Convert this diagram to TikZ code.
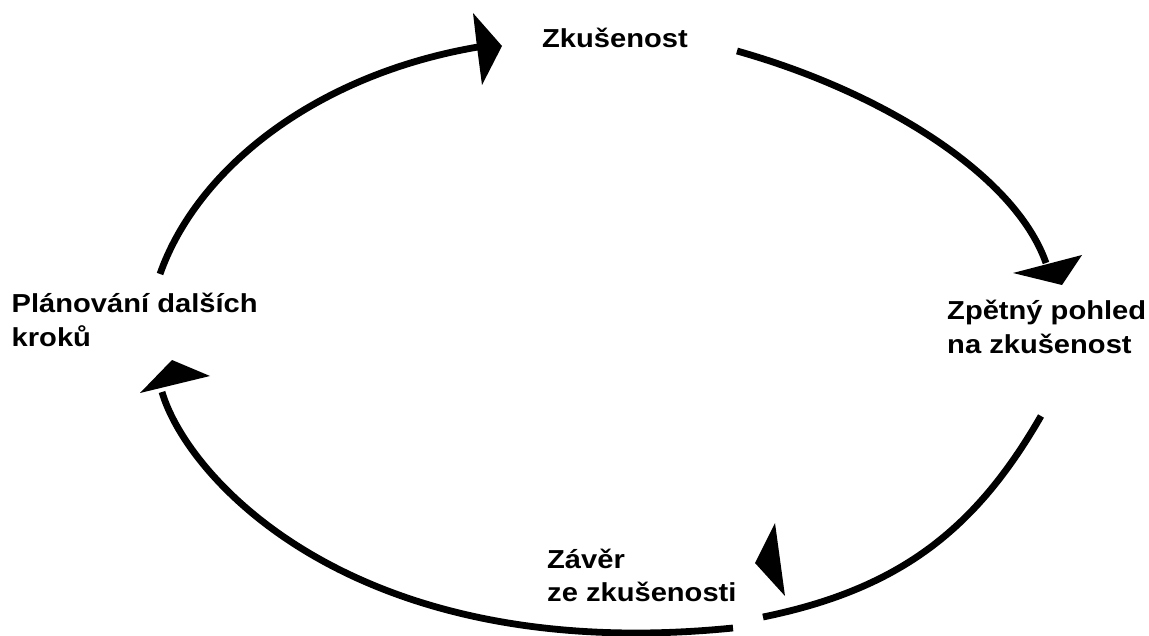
\documentclass[tikz,border=0pt]{standalone}
\usepackage{fontspec}
\newfontfamily\lab{Liberation Sans}[FakeStretch=1.12]
\begin{document}
\begin{tikzpicture}[x=1bp,y=-1bp,
  arc/.style={line width=6.8bp},
  head/.style={fill=black,draw=none},
  lbl/.style={anchor=base west,align=left,inner sep=0pt,font=\lab\bfseries\fontsize{26bp}{33.5bp}\selectfont}]
\useasboundingbox (0,0) rectangle (1149,636);
% labels (base anchor = baseline of the last line)
\node[lbl] (zk) at (542,48) {Zkušenost};
\node[lbl] (zp) at (947,353) {Zpětný pohled\\na zkušenost};
\node[lbl] (zv) at (547,601.5) {Závěr\\ze zkušenosti};
\node[lbl] (pl) at (11.5,346.2) {Plánování dalších\\kroků};
% arc ends
\coordinate (a1s) at (160,274); \coordinate (a1e) at (478,47);
\coordinate (a2s) at (737,51);  \coordinate (a2e) at (1046,263);
\coordinate (a3s) at (1041,416); \coordinate (a3e) at (763,617);
\coordinate (a4s) at (733,628); \coordinate (a4e) at (162,392);
% arcs
\draw[arc] (a1s) .. controls (197,169) and (314.5,75) .. (a1e);
\draw[arc] (a2s) .. controls (881,91.5) and (1014.6,173.7) .. (a2e);
\draw[arc] (a3s) .. controls (976,529) and (900.2,589) .. (a3e);
\draw[arc] (a4s) .. controls (354.9,666) and (187.2,478.4) .. (a4e);
% arrowheads
\fill[head] (473,13) -- (502,46) -- (482,85) -- (477,47) -- cycle;
\fill[head] (1013,273) -- (1082,255) -- (1062,285) -- cycle;
\fill[head] (775,523) -- (755,563) -- (785,596) -- cycle;
\fill[head] (172,360) -- (210,376) -- (140,393) -- cycle;
\end{tikzpicture}
\end{document}
